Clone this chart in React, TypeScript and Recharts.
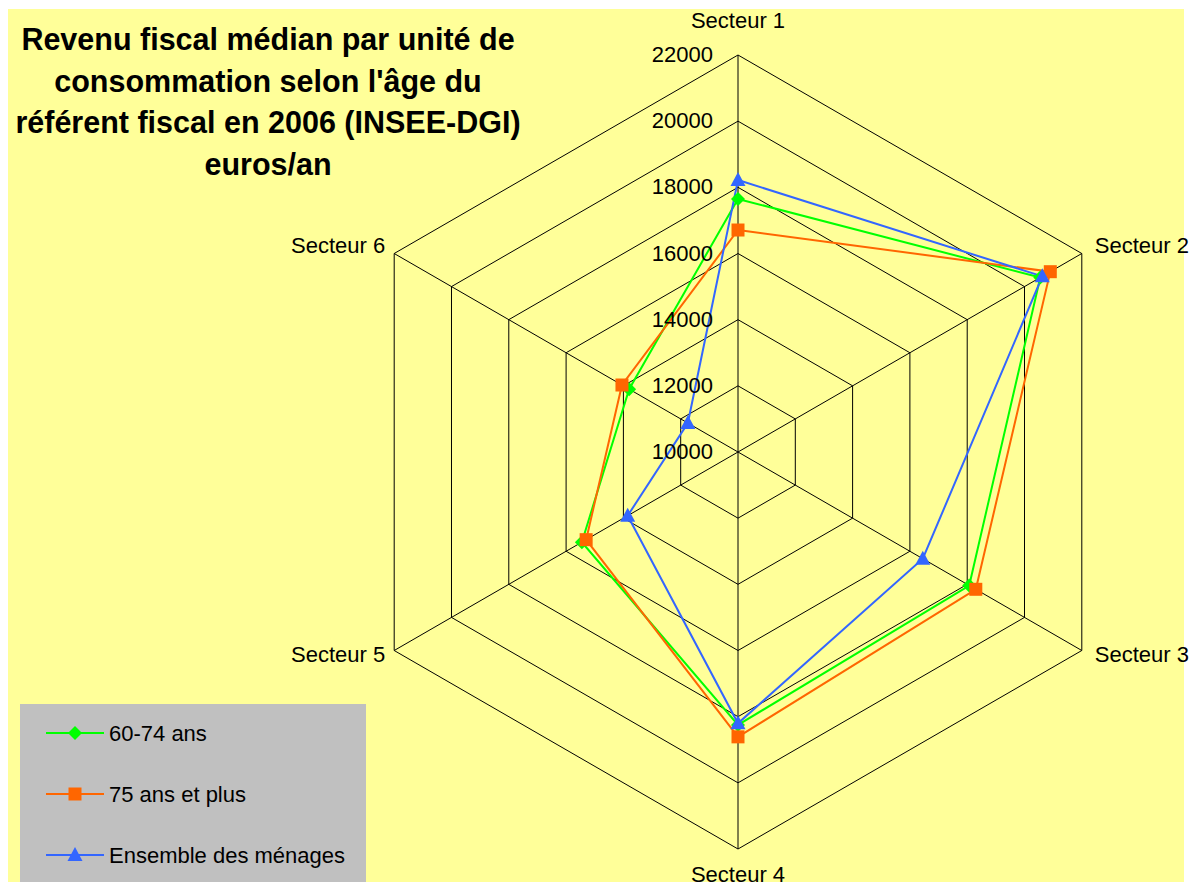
import { RadarChart, Radar, PolarGrid, PolarAngleAxis, PolarRadiusAxis, Legend } from 'recharts'

const sectors = ['Secteur 1', 'Secteur 2', 'Secteur 3', 'Secteur 4', 'Secteur 5', 'Secteur 6']
const age60to74 = [17650, 20550, 18070, 18250, 15450, 13800]
const age75plus = [16710, 20900, 18300, 18610, 15300, 14050]
const allHouseholds = [18220, 20620, 16450, 18200, 13850, 11750]
const radiusTicks = [10000, 12000, 14000, 16000, 18000, 20000, 22000]
const seriesNames = ['60-74 ans', '75 ans et plus', 'Ensemble des ménages']

const data = sectors.map((sector, i) => ({
  sector,
  age60to74: age60to74[i],
  age75plus: age75plus[i],
  all: allHouseholds[i],
}))

const FONT = '"Liberation Sans", Arial, sans-serif'
const CX = 738
const CY = 452
const R = 397

const GREEN = '#00FF00'
const ORANGE = '#FF6600'
const BLUE = '#3366FF'

function Diamond({ cx, cy, fill }: any) {
  return <polygon points={`${cx},${cy - 7} ${cx + 7},${cy} ${cx},${cy + 7} ${cx - 7},${cy}`} fill={fill} />
}

function Square({ cx, cy, fill }: any) {
  return <rect x={cx - 6.5} y={cy - 6.5} width={13} height={13} fill={fill} />
}

function Triangle({ cx, cy, fill }: any) {
  return <polygon points={`${cx},${cy - 8} ${cx + 7.5},${cy + 6} ${cx - 7.5},${cy + 6}`} fill={fill} />
}

const series = [
  { key: 'age60to74', name: seriesNames[0], color: GREEN, Marker: Diamond },
  { key: 'age75plus', name: seriesNames[1], color: ORANGE, Marker: Square },
  { key: 'all', name: seriesNames[2], color: BLUE, Marker: Triangle },
]

function SectorTick(props: any) {
  const { x, y, payload } = props
  const cx = props.cx ?? CX
  const cy = props.cy ?? CY
  const dx = x - cx
  const dy = y - cy
  const len = Math.hypot(dx, dy) || 1
  const vx = cx + (dx / len) * R
  const vy = cy + (dy / len) * R
  let anchor: 'start' | 'middle' | 'end' = 'middle'
  let tx = vx
  let ty = vy
  if (Math.abs(dx) < 2) {
    ty = dy < 0 ? vy - 27 : vy + 33
  } else {
    anchor = dx > 0 ? 'start' : 'end'
    tx = dx > 0 ? vx + 13 : vx - 9
    ty = vy + (dy < 0 ? -1 : 11)
  }
  return (
    <text x={tx} y={ty} textAnchor={anchor} fontSize={22} fontFamily={FONT} fill="#000">
      {payload.value}
    </text>
  )
}

function RadiusTick(props: any) {
  const { x, y, payload } = props
  return (
    <text x={x - 25} y={y + 7} textAnchor="end" fontSize={22} fontFamily={FONT} fill="#000">
      {payload.value}
    </text>
  )
}

function LegendBox() {
  return (
    <div style={{ width: 346, height: 183, background: '#C0C0C0', position: 'relative' }}>
      <svg width={346} height={183}>
        {series.map((s, i) => {
          const y = 29 + i * 61
          const M = s.Marker
          return (
            <g key={s.key}>
              <line x1={26} x2={84} y1={y} y2={y} stroke={s.color} strokeWidth={2} />
              <M cx={55} cy={y} fill={s.color} />
              <text x={89} y={y + 8} fontSize={22} fontFamily={FONT} fill="#000">
                {s.name}
              </text>
            </g>
          )
        })}
      </svg>
    </div>
  )
}

export default function App() {
  return (
    <div style={{ position: 'relative', width: 1198, height: 890, margin: -8, overflow: 'hidden', background: '#fff' }}>
      <div style={{ position: 'absolute', left: 3, top: 9, width: 1181, height: 879, background: '#FFFF99' }} />
      <div
        style={{
          position: 'absolute',
          left: 3,
          top: 19,
          width: 530,
          textAlign: 'center',
          fontFamily: FONT,
          fontWeight: 700,
          fontSize: 30.5,
          lineHeight: '41.5px',
          color: '#000',
        }}
      >
        Revenu fiscal médian par unité de
        <br />
        consommation selon l'âge du
        <br />
        référent fiscal en 2006 (INSEE-DGI)
        <br />
        euros/an
      </div>
      <div style={{ position: 'absolute', left: 0, top: 0 }}>
        <RadarChart
          width={1198}
          height={890}
          data={data}
          cx={CX}
          cy={CY}
          outerRadius={R}
          margin={{ top: 0, right: 0, bottom: 0, left: 0 }}
        >
          <PolarGrid gridType="polygon" stroke="#000" strokeWidth={1} />
          <PolarAngleAxis dataKey="sector" tick={<SectorTick />} tickLine={false} axisLine={false} />
          <PolarRadiusAxis
            angle={90}
            type="number"
            domain={[10000, 22000]}
            ticks={radiusTicks as any}
            tickCount={7}
            tick={<RadiusTick />}
            axisLine={false}
            tickLine={false}
          />
          {series.map(s => (
            <Radar
              key={s.key}
              name={s.name}
              dataKey={s.key}
              stroke={s.color}
              strokeWidth={2}
              fill="none"
              fillOpacity={0}
              dot={(p: any) => <s.Marker key={`${s.key}-${p.index}`} cx={p.cx} cy={p.cy} fill={s.color} />}
              isAnimationActive={false}
            />
          ))}
          <Legend
            layout="horizontal"
            verticalAlign="middle"
            align="center"
            content={<LegendBox />}
            wrapperStyle={{ left: 20, top: 704, width: 346, height: 183 }}
          />
        </RadarChart>
      </div>
    </div>
  )
}
